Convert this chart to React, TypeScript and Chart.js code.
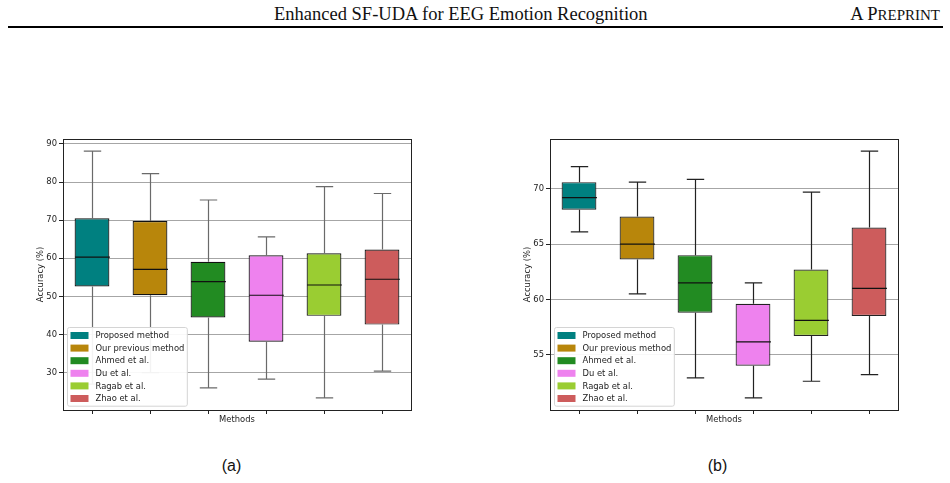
import React, { useEffect, useRef } from 'react';
import { Chart, registerables } from 'chart.js';

Chart.register(...registerables);

// ---------- data ----------
const methods = ['Proposed method', 'Our previous method', 'Ahmed et al.', 'Du et al.', 'Ragab et al.', 'Zhao et al.'];
const colors = ['#008080', '#B8860B', '#228B22', '#EE82EE', '#9ACD32', '#CD5C5C'];

// panel (a)
const aLow = [27.0, 30.0, 26.0, 28.3, 23.4, 30.4];
const aQ1 = [52.6, 50.3, 44.5, 38.1, 44.9, 42.6];
const aMedian = [60.3, 57.1, 53.9, 50.3, 53.0, 54.5];
const aQ3 = [70.5, 69.8, 59.1, 60.8, 61.3, 62.3];
const aHigh = [88.1, 82.2, 75.3, 65.6, 78.8, 77.0];
const aTicks = [30, 40, 50, 60, 70, 80, 90];
const aRange = [20.2, 91.3];

// panel (b)
const bLow = [66.1, 60.5, 52.9, 51.1, 52.6, 53.2];
const bQ1 = [68.1, 63.6, 58.8, 54.0, 56.7, 58.5];
const bMedian = [69.2, 65.0, 61.5, 56.15, 58.1, 61.0];
const bQ3 = [70.6, 67.5, 64.0, 59.6, 62.7, 66.5];
const bHigh = [72.0, 70.6, 70.85, 61.5, 69.7, 73.4];
const bTicks = [55, 60, 65, 70];
const bRange = [50.0, 74.5];

const FONT = '"DejaVu Sans"';
const FS = 8.4;

type PanelProps = {
  low: number[]; q1: number[]; med: number[]; q3: number[]; high: number[];
  ticks: number[]; range: number[]; whiskerColor: string; edgeColor: string; left: number;
};

function BoxPanel(p: PanelProps) {
  const ref = useRef<HTMLCanvasElement>(null);
  useEffect(() => {
    const frame = {
      id: 'frame',
      beforeDatasetsDraw(chart: any) {
        const { ctx, chartArea: a } = chart;
        ctx.save();
        ctx.strokeStyle = '#222';
        ctx.lineWidth = 1;
        ctx.strokeRect(Math.round(a.left) + 0.5, Math.round(a.top) + 0.5, Math.round(a.right - a.left), Math.round(a.bottom - a.top));
        ctx.restore();
      },
    };
    const whiskers = {
      id: 'whiskers',
      afterDatasetsDraw(chart: any) {
        const { ctx } = chart;
        const xs = chart.scales.x;
        const ys = chart.scales.y;
        ctx.save();
        methods.forEach((_, i) => {
          const el = chart.getDatasetMeta(i).data[i];
          const bw = el ? el.width : 35;
          const x = Math.round(xs.getPixelForValue(i)) + 0.5;
          const yl = ys.getPixelForValue(p.low[i]);
          const y1 = ys.getPixelForValue(p.q1[i]);
          const y3 = ys.getPixelForValue(p.q3[i]);
          const yh = ys.getPixelForValue(p.high[i]);
          const ym = ys.getPixelForValue(p.med[i]);
          ctx.strokeStyle = p.whiskerColor;
          ctx.lineWidth = 1.2;
          ctx.beginPath();
          ctx.moveTo(x, yl); ctx.lineTo(x, y1);
          ctx.moveTo(x, y3); ctx.lineTo(x, yh);
          ctx.moveTo(x - bw / 4, yl); ctx.lineTo(x + bw / 4, yl);
          ctx.moveTo(x - bw / 4, yh); ctx.lineTo(x + bw / 4, yh);
          ctx.stroke();
          ctx.strokeStyle = '#111';
          ctx.lineWidth = 1.2;
          ctx.beginPath();
          ctx.moveTo(x - bw / 2, ym); ctx.lineTo(x + bw / 2, ym);
          ctx.stroke();
        });
        ctx.restore();
      },
    };
    const legend = {
      id: 'boxLegend',
      afterDraw(chart: any) {
        const { ctx, chartArea } = chart;
        ctx.save();
        ctx.font = `${FS}px ${FONT}`;
        const maxW = Math.max(...methods.map((m) => ctx.measureText(m).width));
        const rowH = 12.6;
        const w = 28 + maxW + 3;
        const h = 8 + (methods.length - 1) * rowH + 7.7;
        const x = Math.round(chartArea.left + 4) + 0.5;
        const y = Math.round(chartArea.bottom - 4 - h) + 0.5;
        ctx.beginPath();
        ctx.roundRect(x, y, w, h, 2);
        ctx.fillStyle = 'rgba(255,255,255,0.92)';
        ctx.fill();
        ctx.strokeStyle = '#d4d4d4';
        ctx.lineWidth = 1;
        ctx.stroke();
        methods.forEach((m, i) => {
          const cy = y + 8 + i * rowH;
          ctx.fillStyle = colors[i];
          ctx.fillRect(x + 3, cy - 3.5, 18, 7);
          ctx.fillStyle = '#222';
          ctx.textBaseline = 'middle';
          ctx.fillText(m, x + 28, cy + 0.5);
        });
        ctx.restore();
      },
    };

    const datasets = methods.map((m, i) => ({
      label: m,
      data: methods.map((_, j) => (j === i ? [p.q1[i], p.q3[i]] : null)),
      backgroundColor: colors[i],
      borderColor: p.edgeColor,
      borderWidth: 1.2,
      borderSkipped: false,
      grouped: false,
      barPercentage: 0.6,
      categoryPercentage: 1,
    }));

    const chart = new Chart(ref.current as HTMLCanvasElement, {
      type: 'bar',
      data: { labels: methods, datasets: datasets as any },
      options: {
        animation: false,
        responsive: false,
        events: [],
        layout: { padding: { top: 14, right: 14, bottom: 0, left: 0 } },
        plugins: { legend: { display: false }, tooltip: { enabled: false } },
        scales: {
          x: {
            type: 'category',
            offset: true,
            border: { display: false },
            grid: { offset: false, drawOnChartArea: false, drawTicks: true, tickLength: 4, tickColor: '#222', tickWidth: 1 },
            ticks: { display: false },
            title: { display: true, text: 'Methods', color: '#222', font: { family: FONT, size: FS }, padding: { top: 0, bottom: 10 } },
            afterFit: (s: any) => { s.height = 25; },
          },
          y: {
            type: 'linear',
            min: p.range[0],
            max: p.range[1],
            border: { display: false },
            afterBuildTicks: (s: any) => { s.ticks = p.ticks.map((v) => ({ value: v })); },
            grid: { color: '#a6a6a6', lineWidth: 1, drawTicks: true, tickLength: 4, tickColor: '#222', tickWidth: 1 },
            ticks: { color: '#222', font: { family: FONT, size: FS }, padding: 2 },
            title: { display: true, text: 'Accuracy (%)', color: '#222', font: { family: FONT, size: FS }, padding: { top: 36, bottom: 0 } },
            afterFit: (s: any) => { s.width = 63; },
          },
        },
      },
      plugins: [frame, whiskers, legend],
    });
    return () => chart.destroy();
  }, []);
  return (
    <canvas
      ref={ref}
      width={425}
      height={310}
      style={{ position: 'absolute', left: p.left, top: 125, width: 425, height: 310 }}
    />
  );
}

const serif = '"Liberation Serif", serif';

export default function App() {
  return (
    <div style={{ position: 'absolute', left: 0, top: 0, width: 950, height: 483, background: '#fff', overflow: 'hidden' }}>
      <div style={{ position: 'absolute', left: 274, top: 4.5, fontFamily: serif, fontSize: 18.5, lineHeight: '18.5px', whiteSpace: 'nowrap', color: '#111' }}>
        Enhanced SF-UDA for EEG Emotion Recognition
      </div>
      <div style={{ position: 'absolute', right: 10, top: 4.5, fontFamily: serif, fontSize: 18.5, lineHeight: '18.5px', whiteSpace: 'nowrap', color: '#111' }}>
        A P<span style={{ fontSize: 15 }}>REPRINT</span>
      </div>
      <div style={{ position: 'absolute', left: 8, top: 26, width: 935, height: 2, background: '#000' }} />
      <BoxPanel low={aLow} q1={aQ1} med={aMedian} q3={aQ3} high={aHigh} ticks={aTicks} range={aRange} whiskerColor="#6a6a6a" edgeColor="#111" left={0} />
      <BoxPanel low={bLow} q1={bQ1} med={bMedian} q3={bQ3} high={bHigh} ticks={bTicks} range={bRange} whiskerColor="#222" edgeColor="#222" left={487} />
      <div style={{ position: 'absolute', left: 181.5, width: 100, top: 456, textAlign: 'center', fontFamily: '"Liberation Sans", sans-serif', fontSize: 16, lineHeight: '20px', color: '#111' }}>(a)</div>
      <div style={{ position: 'absolute', left: 667.5, width: 100, top: 456, textAlign: 'center', fontFamily: '"Liberation Sans", sans-serif', fontSize: 16, lineHeight: '20px', color: '#111' }}>(b)</div>
    </div>
  );
}
